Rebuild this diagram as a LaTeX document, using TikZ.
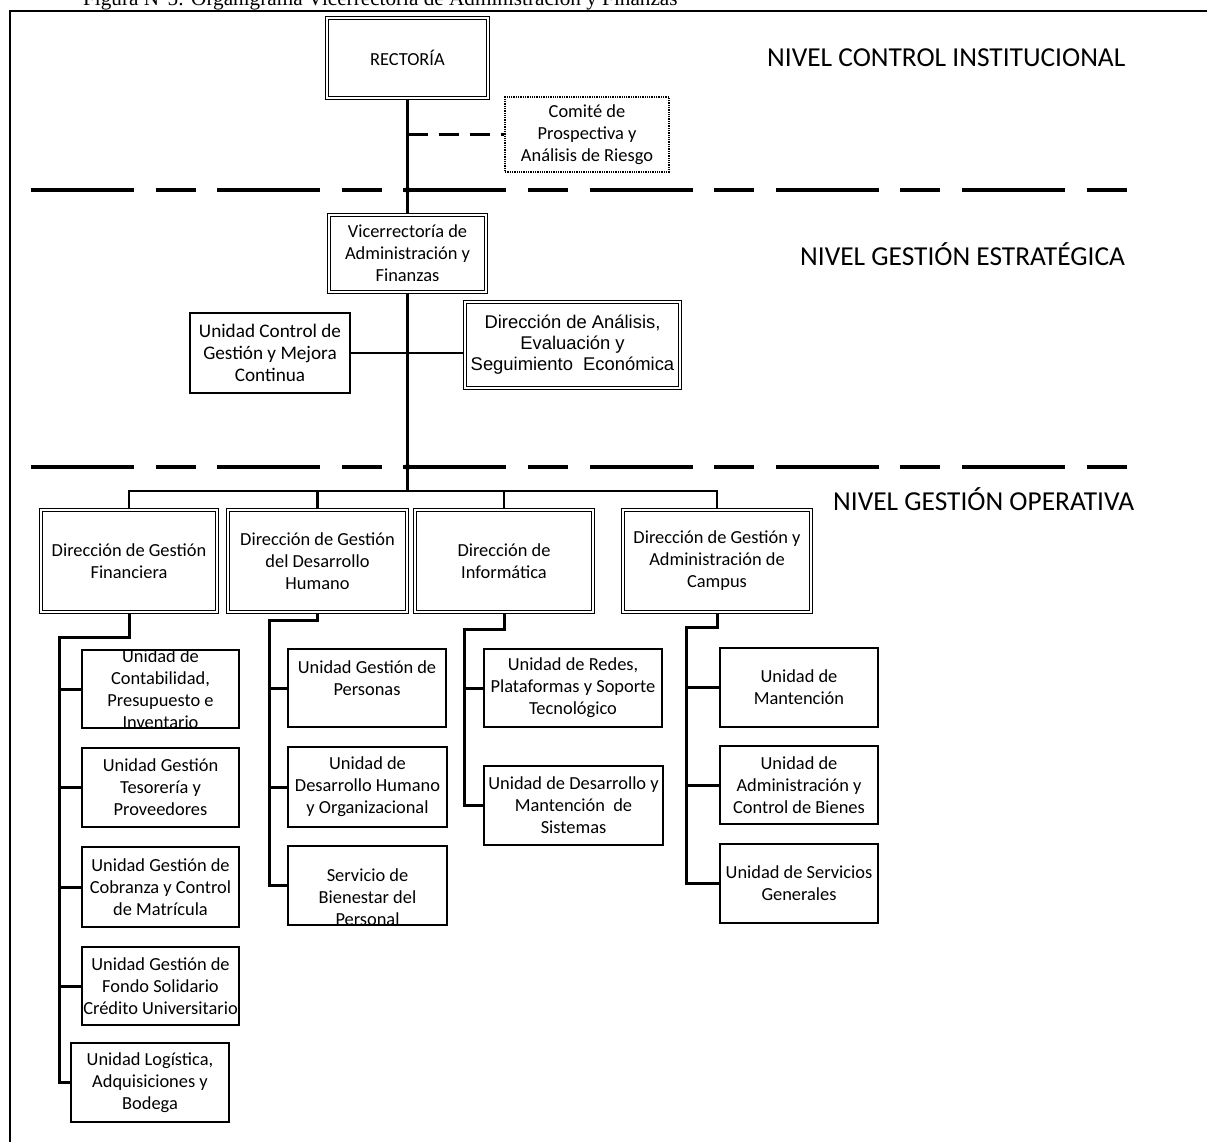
\documentclass[tikz,border=0pt]{standalone}
\usepackage{fontspec}
\setmainfont{Carlito}
\newfontfamily\arialf{Liberation Sans}
\newfontfamily\timesf{Liberation Serif}
\newcommand\bxf{\fontsize{18.4}{22}\selectfont}
\begin{document}
\begin{tikzpicture}[x=1pt,y=-1pt,
  sbox/.style={draw, line width=1.6pt, inner sep=1pt, align=center, font=\bxf},
  dbox/.style={draw, double, double distance=2.4pt, line width=1.2pt, inner sep=2pt, align=center, font=\bxf},
  cbox/.style={draw, densely dotted, line width=1.3pt, inner sep=2pt, align=center, font=\bxf},
  bt/.style={inner sep=0pt, align=center, font=\bxf},
  lvl/.style={inner sep=0pt, font=\fontsize{27.4}{30}\selectfont},
  conn/.style={line width=3pt},
  mainln/.style={line width=2.2pt},
  sepline/.style={line width=4pt, dash pattern=on 103pt off 21.6pt on 40pt off 21.6pt},
  frameln/.style={line width=2pt}]
\useasboundingbox (0,0) rectangle (1207,1142);

% caption (cut at top, as in the scan) and frame
\node[inner sep=0pt, anchor=center, font=\timesf\fontsize{21}{24}\selectfont] (bul) at (33,0) {•};
\node[inner sep=0pt, anchor=base west, font=\timesf\fontsize{21.2}{24}\selectfont] (cap) at (83,6) {Figura N°5: Organigrama Vicerrectoría de Administración y Finanzas};
\coordinate (fbl) at (10,1142);
\coordinate (ftl) at (10,11);
\coordinate (ftr) at (1207,11);
\draw[frameln] (fbl) -- (ftl) -- (ftr);

% level labels
\node[lvl, anchor=base west] (l1) at (767,67) {NIVEL CONTROL INSTITUCIONAL};
\node[lvl, anchor=base west] (l2) at (800,265) {NIVEL GESTIÓN ESTRATÉGICA};
\node[lvl, anchor=base west] (l3) at (833,510) {NIVEL GESTIÓN OPERATIVA};

% level separators
\coordinate (sa1) at (31,190);
\coordinate (sa2) at (1128,190);
\coordinate (sb1) at (31,467);
\coordinate (sb2) at (1128,467);
\draw[sepline] (sa1) -- (sa2);
\draw[sepline] (sb1) -- (sb2);

% top levels
\node[dbox, minimum width=161pt, minimum height=80pt] (rect) at (407.5,58) {RECTORÍA};
\node[cbox, minimum width=164pt, minimum height=75pt] (com) at (587,134.5) {Comité de\\Prospectiva y\\Análisis de Riesgo};
\node[dbox, minimum width=157pt, minimum height=77pt] (vic) at (407.5,253.5) {Vicerrectoría de\\Administración y\\Finanzas};
\node[sbox, font=\fontsize{19.2}{22}\selectfont, minimum width=160pt, minimum height=80pt] (ucg) at (270,353) {Unidad Control de\\Gestión y Mejora\\Continua};
\node[dbox, font=\arialf\fontsize{18.4}{21}\selectfont, minimum width=215pt, minimum height=86pt] (dae) at (572.5,345) {Dirección de Análisis,\\Evaluación y\\Seguimiento\ \ Económica};

\coordinate (bus) at (407.5,491);
\draw[mainln] (rect.south) -- (vic.north);
\draw[mainln] (vic.south) -- (bus);
\draw[line width=2.5pt, dash pattern=on 20pt off 11pt] (rect.south |- com.west) -- (com.west);
\draw[mainln] (ucg.east) -- (dae.west |- ucg.east);
\fill (rect.south |- sa1) circle (3pt);
\fill (rect.south |- sb1) circle (3pt);

% direcciones
\node[dbox, minimum width=176pt, minimum height=102pt] (fin) at (129,561) {Dirección de Gestión\\Financiera};
\node[dbox, minimum width=179pt, minimum height=102pt] (dh) at (317.5,561) {Dirección de Gestión\\del Desarrollo\\Humano};
\node[dbox, minimum width=178pt, minimum height=102pt] (inf) at (504,561) {Dirección de\\Informática};
\node[dbox, minimum width=188pt, minimum height=102pt] (cam) at (717,561) {Dirección de Gestión y\\Administración de\\Campus};
\draw[mainln] (fin.north) |- (bus) -| (cam.north);
\draw[mainln] (dh.north) -- (dh.north |- bus);
\draw[mainln] (inf.north) -- (inf.north |- bus);

% Financiera
\node[sbox, minimum width=157pt, minimum height=78pt] (f1) at (160.5,689) {};
\node[bt] (f1t) at (f1.center) {Unidad de\\Contabilidad,\\Presupuesto e\\Inventario};
\node[sbox, minimum width=157pt, minimum height=79pt] (f2) at (160.5,787.5) {Unidad Gestión\\Tesorería y\\Proveedores};
\node[sbox, minimum width=157pt, minimum height=80pt] (f3) at (160.5,887) {Unidad Gestión de\\Cobranza y Control\\de Matrícula};
\node[sbox, minimum width=157pt, minimum height=78pt] (f4) at (160.5,986) {Unidad Gestión de\\Fondo Solidario\\Crédito Universitario};
\node[sbox, minimum width=158pt, minimum height=79pt] (f5) at (150,1082.5) {Unidad Logística,\\Adquisiciones y\\Bodega};
\coordinate (fs) at (59,637);
\draw[conn] (fin.south) |- (fs) |- (f5.west);
\foreach \n in {f1,f2,f3,f4} \draw[conn] (fs |- \n.west) -- (\n.west);

% Desarrollo Humano
\node[sbox, minimum width=158pt, minimum height=78pt] (d1) at (367,688) {};
\node[bt] (d1t) at (367,678) {Unidad Gestión de\\Personas};
\node[sbox, minimum width=159pt, minimum height=80pt] (d2) at (367.5,787) {Unidad de\\Desarrollo Humano\\y Organizacional};
\node[sbox, minimum width=159pt, minimum height=79pt] (d3) at (367.5,885.5) {};
\node[bt] (d3t) at (367.5,897) {Servicio de\\Bienestar del\\Personal};
\coordinate (ds) at (269,620);
\draw[conn] (dh.south) |- (ds) |- (d3.west);
\foreach \n in {d1,d2} \draw[conn] (ds |- \n.west) -- (\n.west);

% Informatica
\node[sbox, minimum width=178pt, minimum height=78pt] (i1) at (573,688) {Unidad de Redes,\\Plataformas y Soporte\\Tecnológico};
\node[sbox, minimum width=179pt, minimum height=79pt] (i2) at (573.5,805.5) {Unidad de Desarrollo y\\Mantención\ \ de\\Sistemas};
\coordinate (is) at (464,629);
\draw[conn] (inf.south) |- (is) |- (i2.west);
\draw[conn] (is |- i1.west) -- (i1.west);

% Campus
\node[sbox, minimum width=158pt, minimum height=79pt] (c1) at (799,687.5) {Unidad de\\Mantención};
\node[sbox, minimum width=158pt, minimum height=78pt] (c2) at (799,785) {Unidad de\\Administración y\\Control de Bienes};
\node[sbox, minimum width=158pt, minimum height=79pt] (c3) at (799,883.5) {Unidad de Servicios\\Generales};
\coordinate (cs) at (686,627);
\draw[conn] (cam.south) |- (cs) |- (c3.west);
\foreach \n in {c1,c2} \draw[conn] (cs |- \n.west) -- (\n.west);
\end{tikzpicture}
\end{document}
